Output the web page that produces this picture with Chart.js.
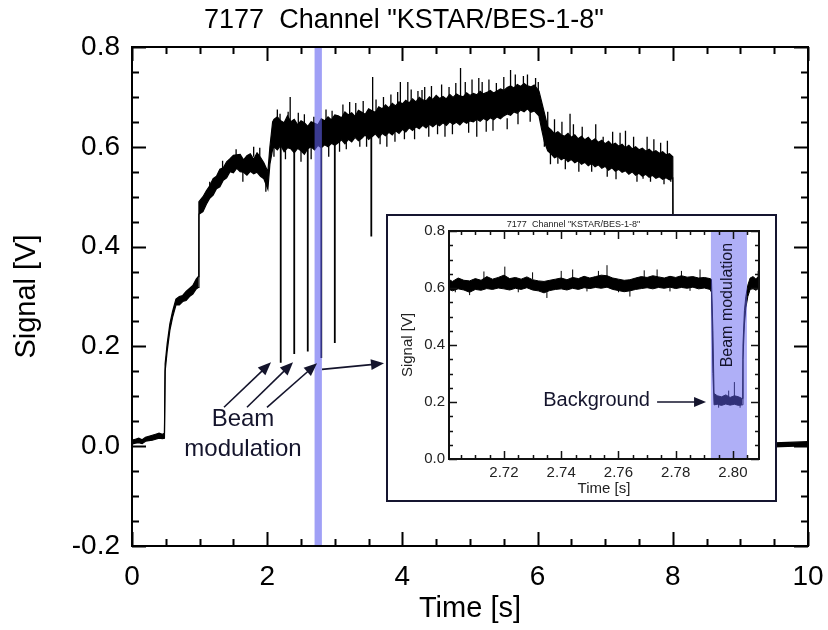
<!DOCTYPE html>
<html>
<head>
<meta charset="utf-8">
<script src="https://cdn.jsdelivr.net/npm/chart.js@4.4.0/dist/chart.umd.min.js"></script>
<style>
  body { margin: 0; background: #fff; }
  #wrap { position: relative; width: 828px; height: 630px; }
  #main { position: absolute; left: 0; top: 0; }
  #insetBox { position: absolute; left: 386px; top: 214px; width: 391px; height: 288px;
    border: 2px solid #151530; box-sizing: border-box; background: #fff; }
  #inset { position: absolute; left: 0; top: 0; }
</style>
</head>
<body>
<div id="wrap">
  <canvas id="main" width="828" height="630"></canvas>
  <div id="insetBox"><canvas id="inset" width="387" height="284"></canvas></div>
</div>
<script>
// ---- main trace: time [s], lower / upper edge of the noisy signal [V]
const mainTime = [0, 0.05, 0.1, 0.15, 0.2, 0.25, 0.3, 0.35, 0.4, 0.45, 0.48, 0.49, 0.52, 0.56, 0.6, 0.65, 0.7, 0.75, 0.8, 0.85, 0.9, 0.95, 0.98,
  0.99, 1.05, 1.1, 1.15, 1.2, 1.25, 1.3, 1.35, 1.4, 1.45, 1.5, 1.55, 1.6, 1.65, 1.7, 1.75, 1.8, 1.85, 1.9, 1.95, 2.01,
  2.04, 2.08,
  2.1, 2.15, 2.2, 2.25, 2.3, 2.35, 2.4, 2.45, 2.5, 2.55, 2.6, 2.65, 2.7, 2.75, 2.8, 2.85, 2.9, 2.95, 3.0,
  3.05, 3.1, 3.15, 3.2, 3.25, 3.3, 3.35, 3.4, 3.45, 3.5, 3.55, 3.6, 3.65, 3.7, 3.75, 3.8, 3.85, 3.9, 3.95, 4.0,
  4.05, 4.1, 4.15, 4.2, 4.25, 4.3, 4.35, 4.4, 4.45, 4.5, 4.55, 4.6, 4.65, 4.7, 4.75, 4.8, 4.85, 4.9, 4.95, 5.0,
  5.05, 5.1, 5.15, 5.2, 5.25, 5.3, 5.35, 5.4, 5.45, 5.5, 5.55, 5.6, 5.65, 5.7, 5.75, 5.8, 5.85, 5.9, 5.95, 6.02,
  6.06, 6.1, 6.15, 6.2, 6.25, 6.3, 6.35, 6.4, 6.45, 6.5, 6.55, 6.6, 6.65, 6.7, 6.75, 6.8, 6.85, 6.9, 6.95, 7.0,
  7.05, 7.1, 7.15, 7.2, 7.25, 7.3, 7.35, 7.4, 7.45, 7.5, 7.55, 7.6, 7.65, 7.7, 7.75, 7.8, 7.85, 7.9, 7.95, 8.0,
  8.01, 8.2, 8.5, 8.8, 9.1, 9.4, 9.6, 9.8, 10];
const mainLower = [0.004, 0.006, 0.007, 0.005, 0.010, 0.011, 0.012, 0.014, 0.016, 0.015, 0.016, 0.150, 0.190, 0.232, 0.258, 0.283, 0.283, 0.290, 0.292, 0.300, 0.305, 0.315, 0.318,
  0.465, 0.470, 0.485, 0.497, 0.503, 0.516, 0.520, 0.533, 0.538, 0.550, 0.548, 0.557, 0.550, 0.549, 0.543, 0.551, 0.546, 0.549, 0.541, 0.536, 0.515,
  0.565, 0.595,
  0.600, 0.594, 0.603, 0.590, 0.598, 0.596, 0.588, 0.597, 0.592, 0.585, 0.596, 0.600, 0.594, 0.603, 0.598, 0.604, 0.600, 0.607, 0.603,
  0.608, 0.614, 0.606, 0.615, 0.610, 0.619, 0.612, 0.617, 0.624, 0.615, 0.620, 0.626, 0.618, 0.627, 0.622, 0.629, 0.624, 0.632, 0.627, 0.635,
  0.630, 0.638, 0.633, 0.640, 0.636, 0.643, 0.638, 0.645, 0.640, 0.646, 0.642, 0.648, 0.643, 0.650, 0.645, 0.649, 0.644, 0.651, 0.647, 0.652,
  0.650, 0.655, 0.651, 0.657, 0.652, 0.658, 0.654, 0.660, 0.656, 0.662, 0.666, 0.663, 0.670, 0.667, 0.674, 0.670, 0.676, 0.669, 0.672, 0.662,
  0.635, 0.610, 0.592, 0.586, 0.578, 0.581, 0.574, 0.578, 0.570, 0.575, 0.568, 0.572, 0.565, 0.569, 0.562, 0.567, 0.560, 0.564, 0.557, 0.561,
  0.553, 0.558, 0.551, 0.555, 0.549, 0.552, 0.545, 0.550, 0.543, 0.547, 0.541, 0.545, 0.539, 0.543, 0.537, 0.540, 0.535, 0.538, 0.534, 0.537,
  -0.004, -0.003, -0.004, -0.002, -0.003, -0.002, -0.001, 0.000, 0.001];
const mainUpper = [0.012, 0.014, 0.016, 0.013, 0.018, 0.020, 0.022, 0.024, 0.026, 0.024, 0.026, 0.165, 0.205, 0.245, 0.270, 0.295, 0.300, 0.302, 0.310, 0.316, 0.322, 0.335, 0.340,
  0.490, 0.500, 0.512, 0.522, 0.536, 0.541, 0.555, 0.558, 0.570, 0.576, 0.583, 0.584, 0.585, 0.574, 0.582, 0.586, 0.575, 0.588, 0.579, 0.568, 0.550,
  0.600, 0.650,
  0.655, 0.660, 0.652, 0.648, 0.662, 0.650, 0.655, 0.644, 0.652, 0.648, 0.641, 0.650, 0.647, 0.644, 0.656, 0.652, 0.660, 0.654, 0.664,
  0.662, 0.658, 0.670, 0.664, 0.668, 0.661, 0.673, 0.669, 0.665, 0.676, 0.672, 0.669, 0.680, 0.676, 0.684, 0.678, 0.687, 0.682, 0.690, 0.686,
  0.693, 0.688, 0.696, 0.690, 0.699, 0.694, 0.692, 0.700, 0.695, 0.703, 0.697, 0.701, 0.696, 0.705, 0.699, 0.706, 0.702, 0.700, 0.708, 0.703,
  0.707, 0.704, 0.711, 0.706, 0.709, 0.713, 0.708, 0.712, 0.716, 0.713, 0.719, 0.722, 0.718, 0.725, 0.721, 0.727, 0.722, 0.720, 0.724, 0.712,
  0.690, 0.668, 0.640, 0.634, 0.626, 0.630, 0.624, 0.621, 0.627, 0.619, 0.624, 0.616, 0.621, 0.614, 0.619, 0.611, 0.616, 0.609, 0.613, 0.606,
  0.611, 0.604, 0.607, 0.601, 0.605, 0.598, 0.603, 0.596, 0.600, 0.594, 0.597, 0.591, 0.595, 0.589, 0.592, 0.587, 0.590, 0.584, 0.586, 0.580,
  0.005, 0.004, 0.005, 0.006, 0.005, 0.006, 0.007, 0.008, 0.009];

// beam-modulation dips [s], [V]
const dipTime  = [2.20, 2.40, 2.60, 2.80, 3.00, 3.54];
const dipFloor = [0.167, 0.185, 0.190, 0.177, 0.207, 0.420];
const dipTop   = [0.610, 0.615, 0.610, 0.620, 0.625, 0.640];

// single noise hairs: time, lower end, upper end
const hairTime  = [1.15, 1.34, 1.54, 1.64, 1.80, 1.89, 1.98,
  2.10, 2.15, 2.19, 2.27, 2.31, 2.34, 2.46, 2.50, 2.55, 2.65, 2.69, 2.87, 2.91, 2.96,
  3.07, 3.12, 3.17, 3.22, 3.31, 3.37, 3.42, 3.47, 3.56, 3.61, 3.67, 3.72, 3.77, 3.83, 3.89, 3.93, 3.97, 4.03,
  4.08, 4.13, 4.18, 4.23, 4.29, 4.33, 4.39, 4.43, 4.52, 4.58, 4.63, 4.69, 4.74, 4.79, 4.86, 4.93, 4.98, 5.03,
  5.10, 5.13, 5.18, 5.24, 5.28, 5.34, 5.39, 5.50, 5.55, 5.60, 5.67, 5.71, 5.79, 5.85, 5.89, 5.97, 6.01,
  6.10, 6.15, 6.19, 6.25, 6.30, 6.36, 6.41, 6.48, 6.53, 6.61, 6.66, 6.80, 6.86, 6.97, 7.03,
  7.11, 7.16, 7.22, 7.30, 7.42, 7.47, 7.56, 7.62, 7.67, 7.72, 7.82, 7.87, 7.92, 7.97];
const hairLower = [0.510, 0.550, 0.575, 0.530, 0.580, 0.580, 0.510,
  0.580, 0.620, 0.620, 0.575, 0.620, 0.600, 0.620, 0.570, 0.620, 0.575, 0.620, 0.630, 0.580, 0.630,
  0.590, 0.640, 0.595, 0.640, 0.640, 0.600, 0.645, 0.600, 0.640, 0.645, 0.605, 0.650, 0.600, 0.655, 0.610, 0.660, 0.650, 0.615,
  0.660, 0.665, 0.615, 0.670, 0.670, 0.670, 0.620, 0.675, 0.625, 0.680, 0.620, 0.680, 0.625, 0.680, 0.672, 0.685, 0.628, 0.675,
  0.620, 0.676, 0.690, 0.630, 0.690, 0.632, 0.678, 0.690, 0.635, 0.682, 0.700, 0.645, 0.690, 0.705, 0.650, 0.690, 0.700,
  0.600, 0.630, 0.565, 0.620, 0.566, 0.615, 0.555, 0.600, 0.610, 0.550, 0.605, 0.550, 0.600, 0.585, 0.540,
  0.595, 0.535, 0.595, 0.575, 0.590, 0.530, 0.536, 0.585, 0.530, 0.580, 0.575, 0.525, 0.575, 0.530];
const hairUpper = [0.530, 0.572, 0.595, 0.555, 0.600, 0.598, 0.540,
  0.620, 0.675, 0.666, 0.610, 0.670, 0.700, 0.668, 0.600, 0.665, 0.610, 0.660, 0.675, 0.610, 0.672,
  0.620, 0.685, 0.620, 0.690, 0.688, 0.625, 0.692, 0.630, 0.740, 0.695, 0.630, 0.700, 0.630, 0.705, 0.635, 0.710, 0.730, 0.640,
  0.730, 0.715, 0.640, 0.712, 0.714, 0.720, 0.660, 0.722, 0.645, 0.725, 0.645, 0.720, 0.648, 0.728, 0.758, 0.730, 0.650, 0.735,
  0.660, 0.738, 0.730, 0.652, 0.735, 0.654, 0.728, 0.740, 0.657, 0.754, 0.745, 0.668, 0.742, 0.745, 0.672, 0.738, 0.730,
  0.630, 0.670, 0.595, 0.655, 0.610, 0.650, 0.580, 0.666, 0.645, 0.572, 0.640, 0.570, 0.645, 0.620, 0.565,
  0.630, 0.560, 0.628, 0.632, 0.620, 0.550, 0.580, 0.620, 0.545, 0.615, 0.608, 0.540, 0.612, 0.545];

// zoom window shown in the inset [s]
const zoomWindow = [2.7008, 2.8091];

// ---- inset trace
const insetTime = [2.7008, 2.702, 2.704, 2.706, 2.708, 2.710, 2.712, 2.714, 2.716, 2.718, 2.720, 2.722, 2.724, 2.726, 2.728, 2.730,
  2.732, 2.734, 2.736, 2.738, 2.740, 2.742, 2.744, 2.746, 2.748, 2.750, 2.752, 2.754, 2.756, 2.758, 2.760, 2.762, 2.764,
  2.766, 2.768, 2.770, 2.772, 2.774, 2.776, 2.778, 2.780, 2.782, 2.784, 2.786, 2.788, 2.790, 2.792, 2.7925, 2.7930, 2.7934,
  2.7945, 2.7960, 2.7975, 2.7990, 2.8005, 2.8020, 2.8032, 2.8035, 2.8040, 2.8045, 2.8052, 2.8060, 2.8070, 2.8080, 2.8091];
const insetLower = [0.595, 0.590, 0.597, 0.593, 0.585, 0.595, 0.592, 0.598, 0.595, 0.600, 0.597, 0.593, 0.599, 0.595, 0.601, 0.593,
  0.590, 0.583, 0.591, 0.595, 0.597, 0.593, 0.599, 0.595, 0.601, 0.598, 0.602, 0.599, 0.603, 0.595, 0.591, 0.587, 0.590,
  0.595, 0.598, 0.601, 0.597, 0.602, 0.599, 0.603, 0.598, 0.602, 0.599, 0.603, 0.597, 0.600, 0.595, 0.585, 0.300, 0.190,
  0.192, 0.188, 0.193, 0.189, 0.192, 0.188, 0.190, 0.350, 0.470, 0.530, 0.570, 0.595, 0.598, 0.592, 0.600];
const insetUpper = [0.630, 0.623, 0.635, 0.627, 0.625, 0.633, 0.627, 0.640, 0.631, 0.637, 0.645, 0.633, 0.637, 0.631, 0.639, 0.629,
  0.625, 0.623, 0.627, 0.631, 0.635, 0.629, 0.637, 0.633, 0.641, 0.635, 0.640, 0.645, 0.643, 0.635, 0.631, 0.627, 0.629,
  0.635, 0.640, 0.637, 0.643, 0.639, 0.635, 0.641, 0.637, 0.643, 0.638, 0.640, 0.635, 0.637, 0.633, 0.630, 0.450, 0.230,
  0.222, 0.218, 0.225, 0.216, 0.222, 0.218, 0.212, 0.400, 0.520, 0.570, 0.610, 0.635, 0.640, 0.632, 0.642];
const insetHairTime  = [2.7030, 2.7080, 2.7130, 2.7203, 2.7250, 2.7300, 2.7350, 2.7400, 2.7440, 2.7490, 2.7530, 2.7560, 2.7600, 2.7640,
  2.7690, 2.7735, 2.7780, 2.7820, 2.7850, 2.7885, 2.7950, 2.7985, 2.8005, 2.8025, 2.8088];
const insetHairLower = [0.585, 0.575, 0.630, 0.630, 0.585, 0.630, 0.565, 0.630, 0.630, 0.588, 0.632, 0.630, 0.585, 0.570,
  0.632, 0.630, 0.588, 0.632, 0.590, 0.630, 0.180, 0.210, 0.210, 0.180, 0.630];
const insetHairUpper = [0.605, 0.610, 0.658, 0.675, 0.605, 0.655, 0.600, 0.660, 0.665, 0.606, 0.660, 0.680, 0.605, 0.600,
  0.662, 0.665, 0.605, 0.660, 0.605, 0.665, 0.200, 0.240, 0.270, 0.200, 0.660];
const beamWindow = [2.7923, 2.8049];

// ---- ticks
const mainXTicks = [0, 2, 4, 6, 8, 10];
const mainYTicks = [-0.2, 0, 0.2, 0.4, 0.6, 0.8];
const insetXTicks = [2.72, 2.74, 2.76, 2.78, 2.80];
const insetYTicks = [0, 0.2, 0.4, 0.6, 0.8];

const FONT = "'Liberation Sans', Arial, sans-serif";
const INK = '#14142c';

function pts(xs, ys) { return xs.map((x, i) => ({ x, y: ys[i] })); }
// vertical hair segments separated by gaps
function segs(xs, lo, hi) {
  const out = [];
  xs.forEach((x, i) => { out.push({ x, y: lo[i] }, { x, y: hi[i] }, { x, y: null }); });
  return out;
}
function range(a, b, step) {
  const out = [];
  for (let v = a; v <= b + step / 100; v += step) out.push(+v.toFixed(4));
  return out;
}

// inward tick marks on all four sides plus the frame
const frameTicks = {
  id: 'frameTicks',
  afterDatasetsDraw(chart, args, o) {
    const { ctx, chartArea: a, scales: { x, y } } = chart;
    ctx.save();
    ctx.strokeStyle = o.color;
    ctx.lineWidth = o.width;
    ctx.beginPath();
    const xs = (vals, len) => vals.forEach(v => {
      const p = Math.round(x.getPixelForValue(v)) + 0.5;
      if (p < a.left - 1 || p > a.right + 1) return;
      ctx.moveTo(p, a.bottom); ctx.lineTo(p, a.bottom - len);
      ctx.moveTo(p, a.top); ctx.lineTo(p, a.top + len);
    });
    const ys = (vals, len) => vals.forEach(v => {
      const p = Math.round(y.getPixelForValue(v)) + 0.5;
      if (p < a.top - 1 || p > a.bottom + 1) return;
      ctx.moveTo(a.left, p); ctx.lineTo(a.left + len, p);
      ctx.moveTo(a.right, p); ctx.lineTo(a.right - len, p);
    });
    xs(o.xMinor, o.minor); xs(o.xMajor, o.major);
    ys(o.yMinor, o.minor); ys(o.yMajor, o.major);
    ctx.stroke();
    ctx.lineWidth = o.frame;
    ctx.strokeRect(a.left, a.top, a.right - a.left, a.bottom - a.top);
    ctx.restore();
  }
};

// translucent vertical band
const band = {
  id: 'band',
  afterDatasetsDraw(chart, args, o) {
    const { ctx, chartArea: a, scales: { x } } = chart;
    const x0 = x.getPixelForValue(o.from), x1 = x.getPixelForValue(o.to);
    ctx.save();
    ctx.fillStyle = o.color;
    ctx.fillRect(x0, a.top, x1 - x0, a.bottom - a.top);
    ctx.restore();
  }
};

function arrow(ctx, x0, y0, x1, y1, head, w) {
  const ang = Math.atan2(y1 - y0, x1 - x0);
  ctx.beginPath();
  ctx.moveTo(x0, y0);
  ctx.lineTo(x1 - Math.cos(ang) * head * 0.8, y1 - Math.sin(ang) * head * 0.8);
  ctx.stroke();
  ctx.beginPath();
  ctx.moveTo(x1, y1);
  ctx.lineTo(x1 - head * Math.cos(ang) + w * Math.sin(ang), y1 - head * Math.sin(ang) - w * Math.cos(ang));
  ctx.lineTo(x1 - head * Math.cos(ang) - w * Math.sin(ang), y1 - head * Math.sin(ang) + w * Math.cos(ang));
  ctx.closePath();
  ctx.fill();
}

// arrows: [tail t, tail V, tip t, tip V]
const mainArrows = [[1.361, 0.078, 2.056, 0.168], [1.701, 0.078, 2.382, 0.168], [1.997, 0.078, 2.737, 0.166], [2.811, 0.154, 3.728, 0.166]];

const mainNotes = {
  id: 'mainNotes',
  afterDraw(chart) {
    const { ctx, scales: { x, y } } = chart;
    ctx.save();
    ctx.fillStyle = INK; ctx.strokeStyle = INK; ctx.lineWidth = 1.6;
    mainArrows.forEach(r => arrow(ctx, x.getPixelForValue(r[0]), y.getPixelForValue(r[1]),
      x.getPixelForValue(r[2]), y.getPixelForValue(r[3]), 13, 5.5));
    ctx.font = '24px ' + FONT;
    ctx.textAlign = 'center'; ctx.textBaseline = 'middle';
    ctx.fillText('Beam', x.getPixelForValue(1.642), y.getPixelForValue(0.054));
    ctx.fillText('modulation', x.getPixelForValue(1.642), y.getPixelForValue(-0.006));
    ctx.restore();
  }
};

const insetNotes = {
  id: 'insetNotes',
  afterDraw(chart) {
    const { ctx, scales: { x, y } } = chart;
    ctx.save();
    ctx.fillStyle = INK; ctx.strokeStyle = INK; ctx.lineWidth = 1.6;
    ctx.font = '20px ' + FONT;
    ctx.textAlign = 'right'; ctx.textBaseline = 'middle';
    ctx.fillText('Background', x.getPixelForValue(2.771), y.getPixelForValue(0.207));
    arrow(ctx, x.getPixelForValue(2.7735), y.getPixelForValue(0.2), x.getPixelForValue(2.7906), y.getPixelForValue(0.2), 12, 5);
    ctx.translate(x.getPixelForValue(2.7983), y.getPixelForValue(0.54));
    ctx.rotate(-Math.PI / 2);
    ctx.font = '16px ' + FONT;
    ctx.textAlign = 'center';
    ctx.fillText('Beam modulation', 0, 0);
    ctx.restore();
  }
};

function line(data, w, extra) {
  return Object.assign({ data, borderColor: '#000', borderWidth: w, pointRadius: 0, fill: false, spanGaps: false }, extra || {});
}

new Chart(document.getElementById('main'), {
  type: 'line',
  data: { datasets: [
    line(pts(mainTime, mainLower), 1.2),
    line(pts(mainTime, mainUpper), 1.2, { fill: '-1', backgroundColor: '#000' }),
    line(segs(hairTime, hairLower, hairUpper), 1.3),
    line(segs(dipTime, dipFloor, dipTop), 1.8)
  ] },
  options: {
    responsive: false, animation: false, devicePixelRatio: 1,
    layout: { padding: { left: 0, right: 20, top: 0, bottom: 0 } },
    elements: { line: { tension: 0 } },
    scales: {
      x: {
        type: 'linear', min: 0, max: 10,
        afterBuildTicks: s => { s.ticks = mainXTicks.map(v => ({ value: v })); },
        afterFit: s => { s.height = 84; s.paddingLeft = 0; s.paddingRight = 0; },
        grid: { display: false, drawTicks: false }, border: { display: false },
        ticks: { padding: 14, color: '#000', font: { family: FONT, size: 28 }, maxRotation: 0 },
        title: { display: true, text: 'Time [s]', color: '#000', font: { family: FONT, size: 29 }, padding: { top: 0, bottom: 4 } }
      },
      y: {
        type: 'linear', min: -0.2, max: 0.8,
        afterBuildTicks: s => { s.ticks = mainYTicks.map(v => ({ value: v })); },
        afterFit: s => { s.width = 132; },
        grid: { display: false, drawTicks: false }, border: { display: false },
        ticks: { padding: 12, color: '#000', font: { family: FONT, size: 28 }, callback: v => v.toFixed(1) },
        title: { display: true, text: 'Signal [V]', color: '#000', font: { family: FONT, size: 29 }, padding: { top: 10, bottom: 0 } }
      }
    },
    plugins: {
      legend: { display: false }, tooltip: { enabled: false },
      title: { display: true, text: '7177  Channel "KSTAR/BES-1-8"', color: '#000',
        font: { family: FONT, size: 27, weight: 'normal' }, padding: { top: 4, bottom: 10.6 } },
      band: { from: zoomWindow[0], to: zoomWindow[1], color: 'rgba(96,96,240,0.6)' },
      frameTicks: { color: '#000', width: 2, frame: 2, major: 14, minor: 7,
        xMajor: mainXTicks, xMinor: range(0, 10, 0.5), yMajor: mainYTicks, yMinor: range(-0.2, 0.8, 0.05) }
    }
  },
  plugins: [band, frameTicks, mainNotes]
});

new Chart(document.getElementById('inset'), {
  type: 'line',
  data: { datasets: [
    line(pts(insetTime, insetLower), 1),
    line(pts(insetTime, insetUpper), 1, { fill: '-1', backgroundColor: '#000' }),
    line(segs(insetHairTime, insetHairLower, insetHairUpper), 1)
  ] },
  options: {
    responsive: false, animation: false, devicePixelRatio: 1,
    layout: { padding: { left: 0, right: 16, top: 0, bottom: 0 } },
    elements: { line: { tension: 0 } },
    scales: {
      x: {
        type: 'linear', min: zoomWindow[0], max: zoomWindow[1],
        afterBuildTicks: s => { s.ticks = insetXTicks.map(v => ({ value: v })); },
        afterFit: s => { s.height = 41; s.paddingLeft = 0; s.paddingRight = 0; },
        grid: { display: false, drawTicks: false }, border: { display: false },
        ticks: { padding: 5, color: '#222', font: { family: FONT, size: 15 }, maxRotation: 0, callback: v => v.toFixed(2) },
        title: { display: true, text: 'Time [s]', color: '#222', font: { family: FONT, size: 15 }, padding: { top: 0, bottom: 2 } }
      },
      y: {
        type: 'linear', min: 0, max: 0.8,
        afterBuildTicks: s => { s.ticks = insetYTicks.map(v => ({ value: v })); },
        afterFit: s => { s.width = 61; },
        grid: { display: false, drawTicks: false }, border: { display: false },
        ticks: { padding: 4, color: '#222', font: { family: FONT, size: 15 }, callback: v => v.toFixed(1) },
        title: { display: true, text: 'Signal [V]', color: '#222', font: { family: FONT, size: 15 }, padding: { top: 10.5, bottom: 0 } }
      }
    },
    plugins: {
      legend: { display: false }, tooltip: { enabled: false },
      title: { display: true, text: '7177  Channel "KSTAR/BES-1-8"', color: '#222',
        font: { family: FONT, size: 9, weight: 'normal' }, padding: { top: 3, bottom: 1.2 } },
      band: { from: beamWindow[0], to: beamWindow[1], color: 'rgba(96,96,240,0.5)' },
      frameTicks: { color: '#111', width: 1.5, frame: 2, major: 8, minor: 4,
        xMajor: [2.70].concat(insetXTicks), xMinor: range(2.70, 2.81, 0.005), yMajor: insetYTicks, yMinor: range(0, 0.8, 0.05) }
    }
  },
  plugins: [band, frameTicks, insetNotes]
});
</script>
</body>
</html>
